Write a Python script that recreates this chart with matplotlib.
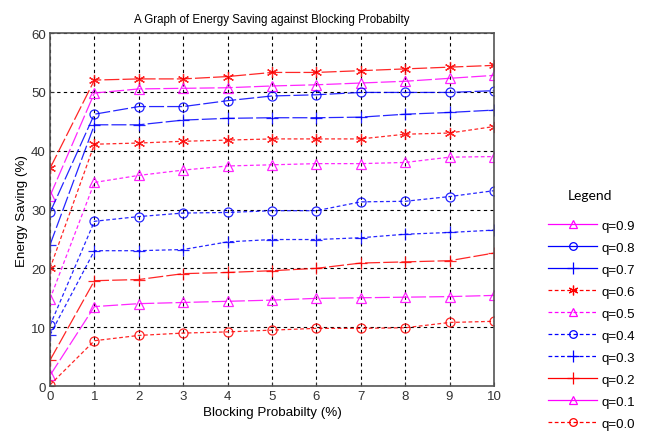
import matplotlib
matplotlib.use('Agg')
import matplotlib.pyplot as plt
from matplotlib.lines import Line2D

plt.rcParams['font.family'] = ['Liberation Sans', 'DejaVu Sans']

blocking = [0, 1, 2, 3, 4, 5, 6, 7, 8, 9, 10]

q10 = [37.0, 52.0, 52.2, 52.2, 52.6, 53.3, 53.3, 53.6, 53.9, 54.2, 54.5]
q09 = [32.3, 49.8, 50.5, 50.6, 50.7, 51.0, 51.2, 51.5, 51.8, 52.3, 52.8]
q08 = [29.5, 46.2, 47.5, 47.5, 48.5, 49.3, 49.5, 49.9, 49.9, 49.9, 50.2]
q07 = [24.0, 44.4, 44.4, 45.2, 45.5, 45.6, 45.6, 45.7, 46.2, 46.5, 46.9]
q06 = [20.0, 41.1, 41.3, 41.6, 41.8, 42.0, 42.0, 42.0, 42.8, 43.0, 44.1]
q05 = [14.8, 34.6, 35.8, 36.7, 37.4, 37.6, 37.8, 37.8, 38.0, 38.9, 39.0]
q04 = [10.3, 28.0, 28.8, 29.4, 29.5, 29.8, 29.8, 31.3, 31.4, 32.2, 33.2]
q03 = [8.7, 23.0, 23.0, 23.2, 24.5, 24.9, 24.9, 25.2, 25.8, 26.1, 26.5]
q02 = [4.4, 17.9, 18.1, 19.1, 19.3, 19.6, 20.0, 20.9, 21.1, 21.3, 22.6]
q01 = [1.8, 13.5, 14.0, 14.2, 14.4, 14.6, 14.9, 15.0, 15.1, 15.2, 15.4]
q00 = [0.2, 7.7, 8.6, 9.0, 9.2, 9.5, 9.8, 9.8, 9.9, 10.8, 11.0]

star = (6, 2, 0)  # asterisk like matlab '*'

# (values, colour, marker, solid?, legend label)
series = [
    (q10, 'red', star, True, None),
    (q09, 'magenta', '^', True, 'q=0.9'),
    (q08, 'blue', 'o', True, 'q=0.8'),
    (q07, 'blue', '+', True, 'q=0.7'),
    (q06, 'red', star, False, 'q=0.6'),
    (q05, 'magenta', '^', False, 'q=0.5'),
    (q04, 'blue', 'o', False, 'q=0.4'),
    (q03, 'blue', '+', False, 'q=0.3'),
    (q02, 'red', '+', True, 'q=0.2'),
    (q01, 'magenta', '^', True, 'q=0.1'),
    (q00, 'red', 'o', False, 'q=0.0'),
]

fig = plt.figure(figsize=(6.48, 4.35), dpi=100)
ax = fig.add_axes([0.0772, 0.1103, 0.685, 0.8115])

def msz(mk):
    return {'^': 7, 'o': 6.5, '+': 9}.get(mk, 8)

handles = []
for vals, col, mk, solid, lab in series:
    dashes = (12, 2.5) if solid else (3, 2)
    ax.plot(blocking, vals, color=col, marker=mk, markersize=msz(mk),
            markerfacecolor='none', markeredgewidth=0.9, linewidth=0.9,
            dashes=dashes, alpha=0.85)
    if lab is not None:
        handles.append(Line2D([], [], color=col, marker=mk, markersize=msz(mk) - 1,
                              markerfacecolor='none', markeredgewidth=0.9,
                              linewidth=0.9, linestyle='-' if solid else (0, (3, 2)),
                              label=lab))

ax.set_xlim(0, 10)
ax.set_ylim(0, 60)
ax.set_xticks(range(0, 11))
ax.set_yticks(range(0, 61, 10))
ax.grid(True, color='black', linestyle=(0, (3, 3)), linewidth=0.8)
ax.tick_params(direction='in', length=3, labelsize=9.5, colors='#333333', pad=3)
for s in ax.spines.values():
    s.set_color('#555555')
    s.set_linewidth(1.2)

ax.set_title('A Graph of Energy Saving against Blocking Probabilty', fontsize=8.3, pad=8)
ax.set_xlabel('Blocking Probabilty (%)', fontsize=9.6, labelpad=3)
ax.set_ylabel('Energy Saving (%)', fontsize=9.6, labelpad=2)

fig.text(0.911, 0.549, 'Legend', ha='center', va='center', fontsize=10,
         family=['Lato', 'DejaVu Sans'])
fig.legend(handles=handles, loc='upper left', bbox_to_anchor=(0.838, 0.505),
           frameon=False, fontsize=9.5, handlelength=3.7, labelspacing=0.74,
           handletextpad=0.3, borderaxespad=0)

fig.savefig('out.png', dpi=100)
